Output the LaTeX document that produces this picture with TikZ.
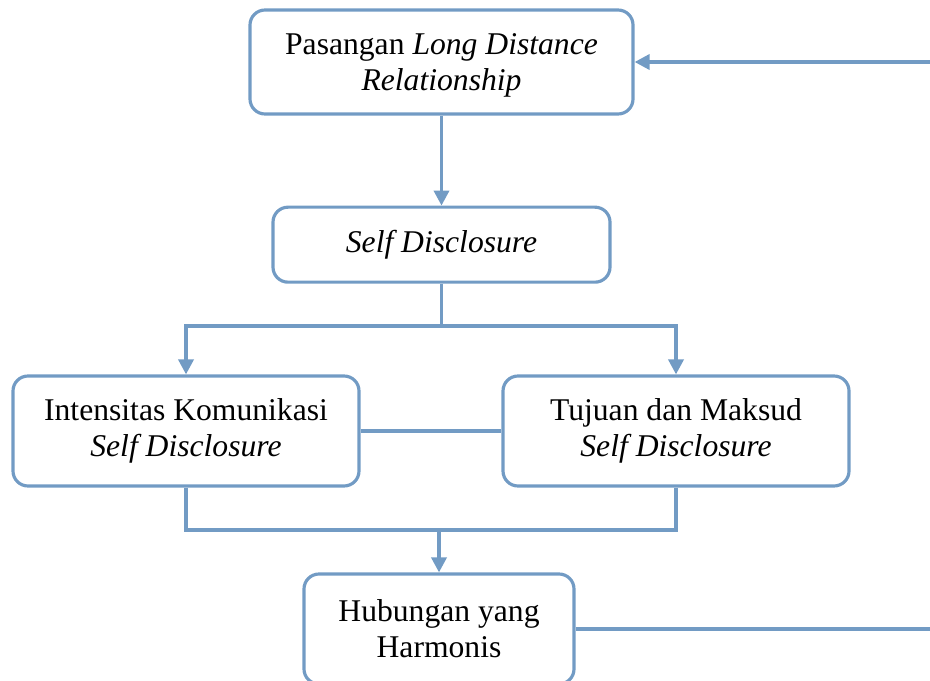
\documentclass[tikz,border=0pt]{standalone}
\usepackage{fontspec}
\setmainfont{Liberation Serif}
\usetikzlibrary{positioning,arrows.meta}
\definecolor{lineblue}{RGB}{114,155,196}
\tikzstyle{arrow} = [line width=2pt,draw=lineblue,-{Triangle[width=0.3cm,length=0.3cm]}]
\tikzstyle{link} = [line width=2pt,draw=lineblue]
\tikzstyle{tRoundBox} = [rectangle, rounded corners=0.3cm, draw=lineblue, line width=1.8pt, align=center, text centered, font=\fontsize{18}{20.5}\selectfont]

\begin{document}
\begin{tikzpicture}
    \clip (0,0) rectangle (18.6,-13.6);
    \useasboundingbox (0,0) rectangle (18.6,-13.6);
        \node[tRoundBox, minimum width=7.66cm, minimum height=2.08cm, text depth=0cm] (Pasangan) at (8.83,-1.24) {Pasangan \textit{Long Distance}\\\textit{Relationship}};
        \node[tRoundBox, minimum width=6.74cm, minimum height=1.5cm] (SelfDis) [below=1.8cm of Pasangan] {\textit{Self Disclosure}};
        \node[tRoundBox, minimum width=6.92cm, minimum height=2.2cm] (Intensitas) at (3.72,-8.62) {Intensitas Komunikasi\\\textit{Self Disclosure}};
        \node[tRoundBox, minimum width=6.92cm, minimum height=2.2cm] (Tujuan) at (13.52,-8.62) {Tujuan dan Maksud\\\textit{Self Disclosure}};
        \node[tRoundBox, minimum width=5.4cm, minimum height=2.2cm] (Harmonis) at (8.78,-12.58) {Hubungan yang\\Harmonis};
        \coordinate (Split) at (SelfDis.south |- 0,-6.52);
        \coordinate (Join) at (Harmonis.north |- 0,-10.6);
        \coordinate (BackIn) at (18.6,-1.24);
        \coordinate (BackOut) at (18.6,-12.58);
        \draw[arrow] (Pasangan.south) -- (SelfDis.north);
        \draw[link] (SelfDis.south) -- (Split);
        \draw[arrow] (Split) -| (Intensitas.north);
        \draw[arrow] (Split) -| (Tujuan.north);
        \draw[link] (Intensitas.east) -- (Tujuan.west);
        \draw[link] (Intensitas.south) |- (Join);
        \draw[link] (Tujuan.south) |- (Join);
        \draw[arrow] (Join) -- (Harmonis.north);
        \draw[link] (Harmonis.east) -- (BackOut);
        \draw[arrow] (BackIn) -- (Pasangan.east);
    \end{tikzpicture}
\end{document}
